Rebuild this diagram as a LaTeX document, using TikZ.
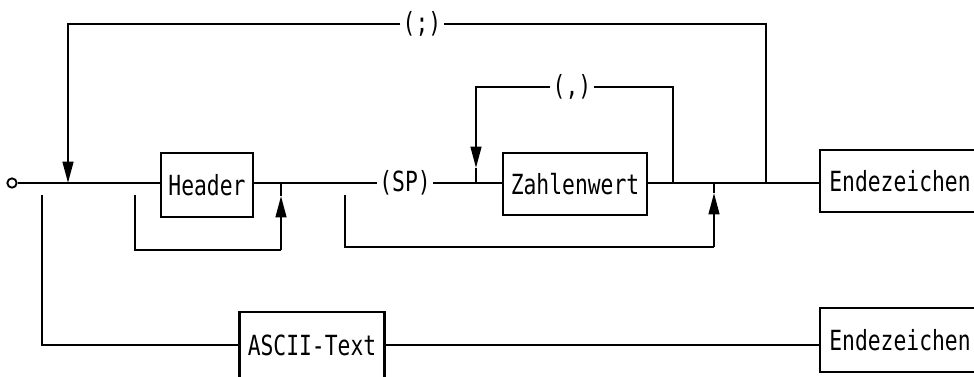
\documentclass[tikz,border=0pt]{standalone}
\usepackage{fontspec}
\usepackage{graphicx}
\newfontfamily\dotfont{DejaVu Sans Mono}
\usetikzlibrary{arrows.meta}
\newcommand\tallt[1]{\scalebox{1}[1.3]{#1}}
\begin{document}
\begin{tikzpicture}[x=0.75pt,y=-0.75pt,
  line/.style={line width=1.7pt},
  box/.style={draw,line width=1.7pt,inner sep=0pt,font=\dotfont\fontsize{16}{16}\selectfont},
  lbl/.style={inner sep=1.5pt,font=\dotfont\fontsize{16}{16}\selectfont},
  arr/.style={-{Triangle[length=16pt,width=8pt]}}]
\useasboundingbox (0,0) rectangle (974,376);
\clip (0,0) rectangle (974,376);

% nodes (sizes in pt: 1px = 0.75pt)
\node[draw,circle,line width=1.4pt,inner sep=0pt,minimum size=7pt] (start) at (12,183) {};
\node[box,minimum width=69pt,minimum height=48pt] (hdr) at (207,185) {\tallt{Header}};
\node[lbl] (sp) at (405,183) {\tallt{(SP)}};
\node[box,minimum width=108pt,minimum height=46.5pt] (zw) at (575,184) {\tallt{Zahlenwert}};
\node[box,minimum width=120pt,minimum height=46.5pt] (end1) at (900,181) {\tallt{Endezeichen}};
\node[lbl] (semi) at (422,24) {\tallt{(;)}};
\node[lbl] (comma) at (572,87) {\tallt{(,)}};
\node[box,minimum width=108.75pt,minimum height=49.5pt] (ascii) at (312,345) {\tallt{ASCII-Text}};
\node[box,minimum width=120pt,minimum height=48pt] (end2) at (900,340) {\tallt{Endezeichen}};

% junction coordinates
\coordinate (jL) at (68,183);
\coordinate (jR) at (766,183);
\coordinate (cA) at (476,168);
\coordinate (cJ) at (476,183);
\coordinate (cR) at (673,183);
\coordinate (hS) at (135,195);
\coordinate (hC) at (281,250);
\coordinate (hA) at (281,196);
\coordinate (hJ) at (281,183);
\coordinate (bS) at (345,195);
\coordinate (bC) at (714,247);
\coordinate (bA) at (714,193);
\coordinate (bJ) at (714,183);
\coordinate (lS) at (42,195);

% main line
\draw[line] (start) -- (start -| hdr.west);
\draw[line] (hdr.east |- sp.west) -- (sp.west);
\draw[line] (sp.east) -- (zw.west |- sp.east);
\draw[line] (zw.east |- sp.east) -- (sp.east -| end1.west);

% top loop (;)
\draw[line] (jR) |- (semi.east);
\draw[line,arr] (semi.west) -| (jL);

% loop (,)
\draw[line] (cR) |- (comma.east);
\draw[line,arr] (comma.west) -| (cA);
\draw[line] (cA) -- (cJ);

% header bypass loop
\draw[line] (hS) |- (hC);
\draw[line,arr] (hC) -- (hA);
\draw[line] (hA) -- (hJ);

% bypass loop under (SP) Zahlenwert
\draw[line] (bS) |- (bC);
\draw[line,arr] (bC) -- (bA);
\draw[line] (bA) -- (bJ);

% lower branch
\draw[line] (lS) |- (ascii.west);
\draw[line] (ascii.east) -- (ascii.east -| end2.west);
\end{tikzpicture}
\end{document}
